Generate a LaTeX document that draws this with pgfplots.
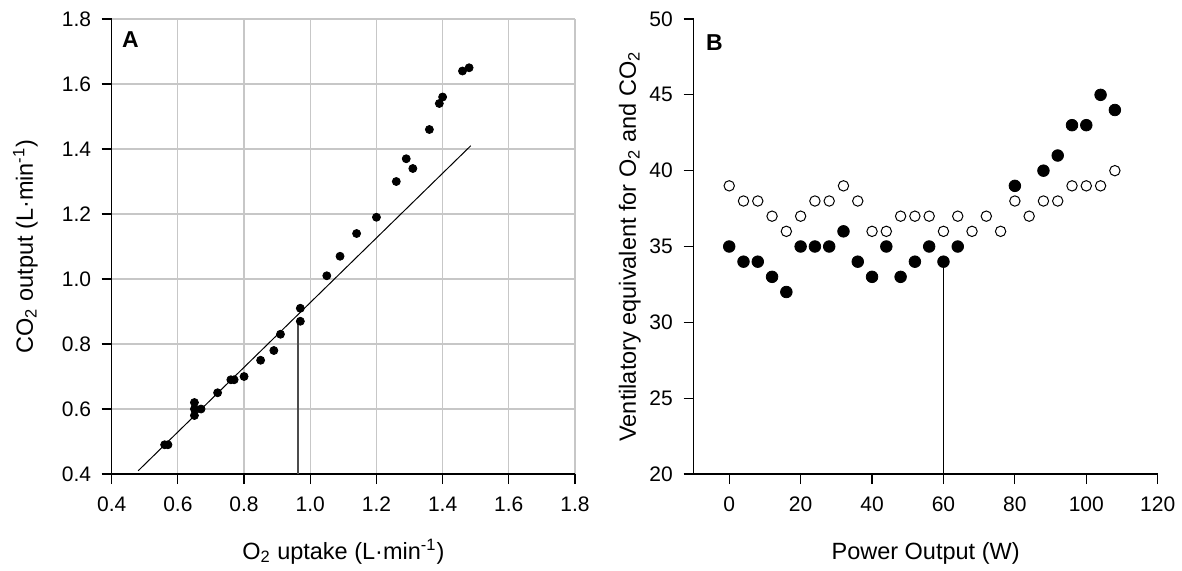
\documentclass[border=0pt]{standalone}
\usepackage{fontspec}
\setmainfont{Liberation Sans}
\usepackage{pgfplots}
\pgfplotsset{compat=1.18}

\pgfplotstableread{
x y
0.56 0.49
0.57 0.49
0.65 0.58
0.65 0.60
0.67 0.60
0.65 0.62
0.72 0.65
0.76 0.69
0.77 0.69
0.80 0.70
0.85 0.75
0.89 0.78
0.91 0.83
0.97 0.87
0.97 0.91
1.05 1.01
1.09 1.07
1.14 1.14
1.20 1.19
1.26 1.30
1.29 1.37
1.31 1.34
1.36 1.46
1.39 1.54
1.40 1.56
1.46 1.64
1.48 1.65
}\dataA

\pgfplotstableread{
x y
0 35
4 34
8 34
12 33
16 32
20 35
24 35
28 35
32 36
36 34
40 33
44 35
48 33
52 34
56 35
60 34
64 35
80 39
88 40
92 41
96 43
100 43
104 45
108 44
}\dataBco

\pgfplotstableread{
x y
0 39
4 38
8 38
12 37
16 36
20 37
24 38
28 38
32 39
36 38
40 36
44 36
48 37
52 37
56 37
60 36
64 37
68 36
72 37
76 36
80 38
84 37
88 38
92 38
96 39
100 39
104 39
108 40
}\dataBo

\pgfplotsset{
  common/.style={
    scale only axis,
    enlargelimits=false,
    axis lines*=left,
    axis line style={line width=0.6pt, -},
    tick align=outside,
    major tick length=5pt,
    tick style={black, line width=0.6pt},
    /pgf/number format/assume math mode=true,
    ticklabel style={font=\fontsize{10.5pt}{12pt}\selectfont},
    xticklabel style={yshift=-3pt},
    yticklabel style={xshift=-1.8pt},
    label style={font=\fontsize{11.75pt}{14pt}\selectfont},
  }
}

\begin{document}
\begin{tikzpicture}
\useasboundingbox (0,0) rectangle (591pt,285pt);

\begin{axis}[
  common,
  at={(55.85pt,48pt)}, anchor=south west,
  width=231.65pt, height=227.5pt,
  xmin=0.4, xmax=1.8, ymin=0.4, ymax=1.8,
  xtick={0.4,0.6,0.8,1.0,1.2,1.4,1.6,1.8},
  ytick={0.4,0.6,0.8,1.0,1.2,1.4,1.6,1.8},
  /pgf/number format/fixed,
  /pgf/number format/fixed zerofill,
  /pgf/number format/precision=1,
  grid=major,
  major grid style={draw=black!22, line width=0.6pt},
  xlabel={O\textsubscript{2} uptake (L·min\textsuperscript{-1})},
  ylabel={CO\textsubscript{2} output (L·min\textsuperscript{-1})},
  xlabel style={at={(axis description cs:0.5,-0.1868)}, anchor=base},
  ylabel style={at={(axis description cs:-0.1699,0.5)}, anchor=base},
]
\addplot[black, line width=0.5pt] coordinates {(0.48,0.41) (1.485,1.41)};
\addplot[black!70, line width=0.6pt] coordinates {(0.963,0.4) (0.963,0.87)};
\addplot[only marks, mark=*, mark size=2pt, mark options={fill=black, draw=black}] table {\dataA};
\node[anchor=north west, inner sep=0, xshift=5pt, yshift=-6.35pt, font=\bfseries\fontsize{11.5pt}{13pt}\selectfont] at (rel axis cs:0,1) {A};
\end{axis}

\begin{axis}[
  common,
  at={(346.75pt,48pt)}, anchor=south west,
  width=232.1pt, height=227.5pt,
  xmin=-10, xmax=120, ymin=20, ymax=50,
  xtick={0,20,40,60,80,100,120},
  ytick={20,25,30,35,40,45,50},
  xlabel={Power Output (W)},
  ylabel={Ventilatory equivalent for O\textsubscript{2} and CO\textsubscript{2}},
  xlabel style={at={(axis description cs:0.5,-0.1868)}, anchor=base},
  ylabel style={at={(axis description cs:-0.1239,0.5)}, anchor=base},
]
\addplot[black, line width=0.6pt] coordinates {(60,20) (60,34)};
\addplot[only marks, mark=*, mark size=2.9pt, mark options={fill=black, draw=black}] table {\dataBco};
\addplot[only marks, mark=*, mark size=2.6pt, mark options={fill=white, draw=black, line width=0.5pt}] table {\dataBo};
\node[anchor=north west, inner sep=0, xshift=6.1pt, yshift=-7.65pt, font=\bfseries\fontsize{11.5pt}{13pt}\selectfont] at (rel axis cs:0,1) {B};
\end{axis}
\end{tikzpicture}
\end{document}
